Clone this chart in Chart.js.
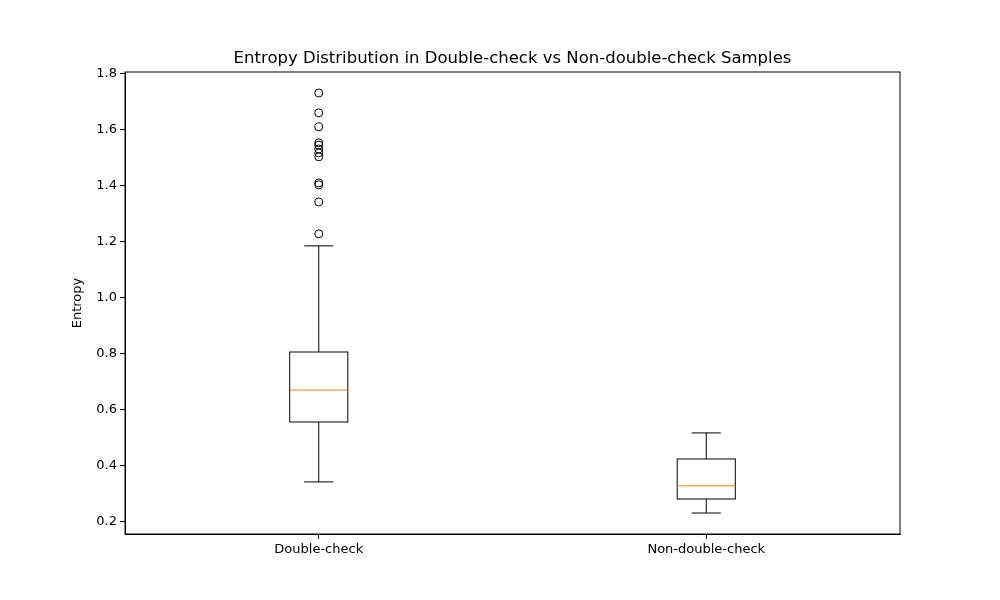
<!DOCTYPE html>
<html>
<head>
<meta charset="utf-8">
<script src="https://cdn.jsdelivr.net/npm/chart.js@4"></script>
<style>
  html, body { margin: 0; padding: 0; background: #fff; }
  #wrap { width: 1000px; height: 600px; }
</style>
</head>
<body>
<div id="wrap"><canvas id="boxChart" width="1000" height="600"></canvas></div>
<script>
// categories and box statistics
const categories = ["Double-check", "Non-double-check"];
const positions = [1, 2];
const whiskerLow = [0.343, 0.232];
const q1 = [0.557, 0.282];
const median = [0.671, 0.329];
const q3 = [0.807, 0.425];
const whiskerHigh = [1.186, 0.518];
const outliers = [
  [1.229, 1.343, 1.404, 1.411, 1.504, 1.518, 1.532, 1.546, 1.554, 1.611, 1.661, 1.732],
  []
];
const yTicks = [0.2, 0.4, 0.6, 0.8, 1.0, 1.2, 1.4, 1.6, 1.8];

const outlierPoints = [];
outliers.forEach((list, i) => list.forEach(v => outlierPoints.push({ x: positions[i], y: v })));

const font = "DejaVu Sans";
const boxHalf = 0.075;

// boxes, whiskers, medians, frame and title
const boxPlugin = {
  id: "boxPlugin",
  afterDatasetsDraw(chart) {
    const { ctx, scales: { x, y }, chartArea: a } = chart;
    ctx.save();
    ctx.lineWidth = 1;
    positions.forEach((p, i) => {
      const cx = x.getPixelForValue(p);
      const half = x.getPixelForValue(p + boxHalf) - cx;
      const capHalf = half / 2;
      const yl = y.getPixelForValue(whiskerLow[i]);
      const y1 = y.getPixelForValue(q1[i]);
      const ym = y.getPixelForValue(median[i]);
      const y3 = y.getPixelForValue(q3[i]);
      const yh = y.getPixelForValue(whiskerHigh[i]);
      ctx.strokeStyle = "#000";
      ctx.strokeRect(cx - half, y3, half * 2, y1 - y3);
      ctx.beginPath();
      ctx.moveTo(cx, y1); ctx.lineTo(cx, yl);
      ctx.moveTo(cx, y3); ctx.lineTo(cx, yh);
      ctx.moveTo(cx - capHalf, yl); ctx.lineTo(cx + capHalf, yl);
      ctx.moveTo(cx - capHalf, yh); ctx.lineTo(cx + capHalf, yh);
      ctx.stroke();
      ctx.strokeStyle = "#ff7f0e";
      ctx.beginPath();
      ctx.moveTo(cx - half, ym); ctx.lineTo(cx + half, ym);
      ctx.stroke();
    });
    ctx.strokeStyle = "#000";
    ctx.strokeRect(a.left, a.top, a.right - a.left, a.bottom - a.top);
    ctx.fillStyle = "#000";
    ctx.font = "16.5px '" + font + "'";
    ctx.textAlign = "center";
    ctx.textBaseline = "bottom";
    ctx.fillText("Entropy Distribution in Double-check vs Non-double-check Samples", (a.left + a.right) / 2, a.top - 5);
    ctx.restore();
  }
};

new Chart(document.getElementById("boxChart"), {
  type: "scatter",
  data: {
    datasets: [{
      data: outlierPoints,
      pointStyle: "circle",
      pointRadius: 4,
      borderColor: "#000",
      backgroundColor: "rgba(0,0,0,0)",
      borderWidth: 1
    }]
  },
  options: {
    responsive: false,
    animation: false,
    layout: { padding: { top: 72, right: 100, left: 66, bottom: 0 } },
    plugins: { legend: { display: false }, tooltip: { enabled: false }, title: { display: false } },
    scales: {
      x: {
        type: "linear", min: 0.5, max: 2.5,
        afterBuildTicks: s => { s.ticks = positions.map(v => ({ value: v })); },
        afterFit: s => { s.height = 66; },
        ticks: {
          color: "#000", font: { family: font, size: 13 }, padding: 3,
          callback: v => categories[positions.indexOf(v)]
        },
        grid: { display: true, drawOnChartArea: false, drawTicks: true, tickLength: 5, color: "#000" },
        border: { display: true, color: "#000" }
      },
      y: {
        min: 0.157, max: 1.807,
        afterBuildTicks: s => { s.ticks = yTicks.map(v => ({ value: v })); },
        afterFit: s => { s.width = 59; },
        title: { display: true, text: "Entropy", color: "#000", font: { family: font, size: 13 }, padding: 4 },
        ticks: {
          color: "#000", font: { family: font, size: 13 }, padding: 3,
          callback: v => v.toFixed(1)
        },
        grid: { display: true, drawOnChartArea: false, drawTicks: true, tickLength: 5, color: "#000" },
        border: { display: true, color: "#000" }
      }
    }
  },
  plugins: [boxPlugin]
});
</script>
</body>
</html>
